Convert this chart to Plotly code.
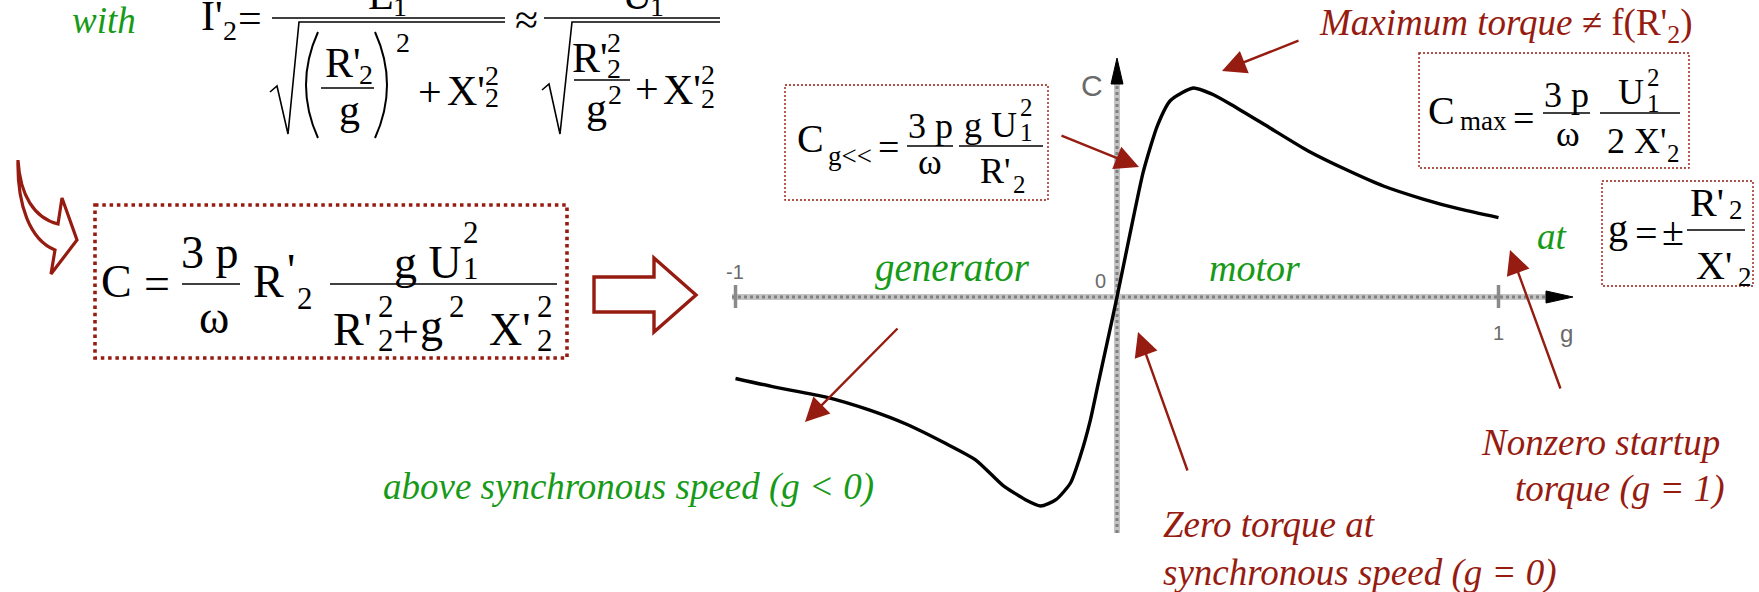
import plotly.graph_objects as go

W, H = 1759, 592

# Torque-slip characteristic of the induction machine (torque relative to C_max)
slip_generator = [-1.0, -0.9, -0.76, -0.65, -0.55, -0.45, -0.37, -0.3, -0.24, -0.2,
                  -0.16, -0.122, -0.096, -0.07, -0.05, -0.026, 0.0]
torque_generator = [-0.39, -0.43, -0.48, -0.54, -0.61, -0.70, -0.78, -0.90, -0.97, -1.0,
                    -0.97, -0.89, -0.76, -0.59, -0.42, -0.22, 0.0]
slip_motor = [0.035, 0.069, 0.106, 0.14, 0.2, 0.25, 0.3, 0.4, 0.5, 0.6, 0.7, 0.8, 0.9, 1.0]
torque_motor = [0.31, 0.60, 0.82, 0.94, 1.0, 0.97, 0.92, 0.81, 0.70, 0.61, 0.53, 0.47, 0.42, 0.38]

slip_ticks = [-1, 0, 1]
slip_tick_labels = ["-1", "0", "1"]

RED = "#961b10"
GREEN = "#179a17"
BLACK = "#000000"
GRAY = "#6a6a6a"
SERIF = "Liberation Serif, Times New Roman, serif"
SANS = "Liberation Sans, Arial, sans-serif"

# pixel <-> data mapping of the main axes
G0_PX, G_UNIT = 1117.0, 381.5
C0_PX, C_UNIT = 297.0, 209.0
x_range = [-G0_PX / G_UNIT, (W - G0_PX) / G_UNIT]
y_range = [(C0_PX - H) / C_UNIT, C0_PX / C_UNIT]

fig = go.Figure()

fig.add_trace(go.Scatter(
    x=slip_generator + slip_motor,
    y=torque_generator + torque_motor,
    mode="lines",
    line=dict(color=BLACK, width=3.4, shape="spline", smoothing=0.6),
    hoverinfo="skip", showlegend=False,
))
# helper trace so that the pixel-space overlay axes exist
fig.add_trace(go.Scatter(x=[None], y=[None], xaxis="x2", yaxis="y2",
                         mode="markers", showlegend=False, hoverinfo="skip"))

shapes = []
annotations = []


def line(x0, y0, x1, y1, color=BLACK, width=1.6, dash=None, layer="above"):
    shapes.append(dict(type="line", xref="x2", yref="y2", x0=x0, y0=y0, x1=x1, y1=y1,
                       line=dict(color=color, width=width, dash=dash), layer=layer))


def path(d, color=BLACK, width=1.6, fill=None, layer="above"):
    s = dict(type="path", xref="x2", yref="y2", path=d,
             line=dict(color=color, width=width), layer=layer)
    if fill:
        s["fillcolor"] = fill
    shapes.append(s)


def box(x0, y0, x1, y1, width, dash):
    shapes.append(dict(type="rect", xref="x2", yref="y2", x0=x0, y0=y0, x1=x1, y1=y1,
                       line=dict(color=RED, width=width, dash=dash), layer="above"))


def txt(x, y, s, size, color=BLACK, xa="center", family=SERIF):
    # glyphs sitting partly above the page are anchored on the top edge and shifted up
    shift = 0
    if y < 1:
        shift, y = 1 - y, 1
    annotations.append(dict(x=x, y=y, xref="x2", yref="y2", text=s, showarrow=False,
                            xanchor=xa, yanchor="middle", yshift=shift,
                            font=dict(family=family, size=size, color=color)))


def arrow(x_tail, y_tail, x_head, y_head):
    annotations.append(dict(x=x_head, y=y_head, ax=x_tail, ay=y_tail,
                            xref="x2", yref="y2", axref="x2", ayref="y2",
                            text="", showarrow=True, arrowhead=2, arrowsize=2.0,
                            arrowwidth=2.4, arrowcolor=RED))


# ---------------- axes of the characteristic ----------------
gx = lambda g: G0_PX + g * G_UNIT
line(732, C0_PX, 1552, C0_PX, color="#c4c4c4", width=6, layer="below")
line(732, C0_PX, 1552, C0_PX, color="#808080", width=3, dash="3px,3px", layer="below")
line(G0_PX, 533, G0_PX, 80, color="#c4c4c4", width=6, layer="below")
line(G0_PX, 533, G0_PX, 80, color="#808080", width=3, dash="3px,3px", layer="below")
path("M1546,291 L1573,297 L1546,303 Z", color=BLACK, width=1, fill=BLACK, layer="below")
path("M1111,84 L1117,58 L1123,84 Z", color=BLACK, width=1, fill=BLACK, layer="below")
for g in (slip_ticks[0], slip_ticks[2]):
    line(gx(g), 285, gx(g), 308, color="#8a8a8a", width=3.5, layer="below")
txt(gx(slip_ticks[0]) - 1, 272, slip_tick_labels[0], 20, GRAY, family=SANS)
txt(gx(slip_ticks[1]) - 17, 281, slip_tick_labels[1], 20, GRAY, family=SANS)
txt(gx(slip_ticks[2]), 333, slip_tick_labels[2], 20, GRAY, family=SANS)
txt(1566, 333, "g", 24, GRAY, family=SANS)
txt(1092, 85, "C", 30, GRAY, family=SANS)

# ---------------- top formula: rotor current ----------------
FA, FA_S = 42, 28
txt(212, 16, "I'", FA)
txt(230, 30, "2", FA_S)
txt(250, 18, "=", FA)
line(272, 18, 505, 18)
txt(381, -5, "E", FA)
txt(400, 6, "1", FA_S)
path("M270,92 L277,86 L288,134 L299,22 L505,22", width=1.6)
path("M318,32 Q294,85 318,138", width=2)
txt(343, 63, "R'", FA)
txt(366, 74, "2", FA_S)
line(321, 88, 374, 88)
txt(349, 110, "g", FA)
path("M375,32 Q399,85 375,138", width=2)
txt(403, 42, "2", FA_S)
txt(430, 92, "+", FA)
txt(466, 91, "X'", FA)
txt(492, 75, "2", FA_S)
txt(492, 97, "2", FA_S)
txt(526, 20, "≈", FA)
line(544, 18, 720, 18)
txt(637, -5, "U", FA)
txt(657, 6, "1", FA_S)
path("M542,90 L549,84 L560,134 L572,22 L720,22", width=1.6)
txt(590, 58, "R'", FA)
txt(614, 42, "2", FA_S)
txt(614, 68, "2", FA_S)
line(574, 80, 630, 80)
txt(596, 108, "g", FA)
txt(615, 94, "2", FA_S)
txt(647, 89, "+", FA)
txt(682, 90, "X'", FA)
txt(708, 74, "2", FA_S)
txt(708, 98, "2", FA_S)
txt(104, 20, "<i>with</i>", 37, GREEN)

# ---------------- torque formula ----------------
curl = ("M18,160 C20,195 34,218 58,224 L62,198 L77,240 L51,274 L55,250 "
        "C30,240 17,205 18,160 Z")
path(curl, color=RED, width=3.2, fill="white")
box(95, 205, 567, 358, 3.6, "3.5px,3.8px")
FB, FB_S = 46, 31
txt(116, 281, "C", FB)
txt(157, 283, "=", FB)
txt(210, 252, "3 p", FB)
line(182, 284, 240, 284)
txt(214, 317, "ω", FB)
txt(268, 281, "R", FB)
txt(291, 270, "'", FB)
txt(305, 298, "2", FB_S)
line(330, 284, 557, 284)
txt(428, 262, "g U", FB)
txt(471, 232, "2", FB_S)
txt(471, 268, "1", FB_S)
txt(352, 329, "R'", FB)
txt(386, 306, "2", FB_S)
txt(386, 340, "2", FB_S)
txt(406, 331, "+", FB)
txt(431, 325, "g", FB)
txt(457, 306, "2", FB_S)
txt(510, 329, "X'", FB)
txt(545, 306, "2", FB_S)
txt(545, 340, "2", FB_S)
path("M594,277 L654,277 L654,258 L696,295 L654,332 L654,312 L594,312 Z",
     color=RED, width=3.4, fill="white")

# ---------------- small-slip torque box ----------------
box(785, 85, 1048, 200, 1.4, "2px,2px")
txt(810, 138, "C", 40)
txt(850, 156, "g<<", 27)
txt(888, 147, "=", 38)
txt(930, 126, "3 p", 36)
line(907, 146, 953, 146)
txt(930, 162, "ω", 36)
txt(990, 125, "g U", 36)
txt(1026, 107, "2", 25)
txt(1026, 132, "1", 25)
line(959, 146, 1043, 146)
txt(995, 171, "R'", 36)
txt(1019, 184, "2", 25)

# ---------------- maximum torque box ----------------
box(1419, 53, 1689, 168, 1.4, "2px,2px")
txt(1441, 110, "C", 40)
txt(1483, 121, "max", 27)
txt(1523, 118, "=", 38)
txt(1566, 95, "3 p", 36)
line(1543, 113, 1590, 113)
txt(1568, 134, "ω", 36)
txt(1631, 92, "U", 36)
txt(1653, 77, "2", 25)
txt(1653, 103, "1", 25)
line(1600, 113, 1680, 113)
txt(1636, 141, "2 X'", 36)
txt(1673, 153, "2", 25)

# ---------------- slip at maximum torque ----------------
box(1602, 181, 1753, 286, 1.4, "2px,2px")
txt(1618, 228, "g", 40)
txt(1646, 233, "=", 40)
txt(1673, 231, "±", 40)
line(1687, 230, 1745, 230)
txt(1707, 202, "R'", 40)
txt(1736, 210, "2", 27)
txt(1714, 265, "X'", 40)
txt(1745, 277, "2", 27)
txt(1552, 236, "<i>at</i>", 37, GREEN)

# ---------------- captions and pointers ----------------
txt(1506, 25, "<i>Maximum torque</i> ≠ f(R'<sub>2</sub>)", 37, RED)
arrow(1300, 40, 1222, 71)
arrow(1060, 135, 1139, 167)
txt(952, 268, "<i>generator</i>", 39, GREEN)
txt(1254, 268, "<i>motor</i>", 38, GREEN)
arrow(899, 327, 805, 422)
txt(628, 487, "<i>above synchronous speed (g &lt; 0)</i>", 37, GREEN)
arrow(1188, 472, 1138, 332)
txt(1161, 524, "<i>Zero torque at</i>", 37, RED, xa="left")
txt(1161, 573, "<i>synchronous speed (g = 0)</i>", 37, RED, xa="left")
arrow(1561, 390, 1510, 250)
txt(1600, 442, "<i>Nonzero startup</i>", 37, RED)
txt(1620, 489, "<i>torque (g = 1)</i>", 37, RED)

fig.update_layout(
    width=W, height=H,
    margin=dict(l=0, r=0, t=0, b=0),
    paper_bgcolor="white", plot_bgcolor="white",
    xaxis=dict(range=x_range, visible=False, domain=[0, 1], fixedrange=True),
    yaxis=dict(range=y_range, visible=False, domain=[0, 1], fixedrange=True),
    xaxis2=dict(range=[0, W], visible=False, overlaying="x", fixedrange=True),
    yaxis2=dict(range=[H, 0], visible=False, overlaying="y", fixedrange=True),
    shapes=shapes,
    annotations=annotations,
    showlegend=False,
)

fig.write_html("out.html", config={"displayModeBar": False})
